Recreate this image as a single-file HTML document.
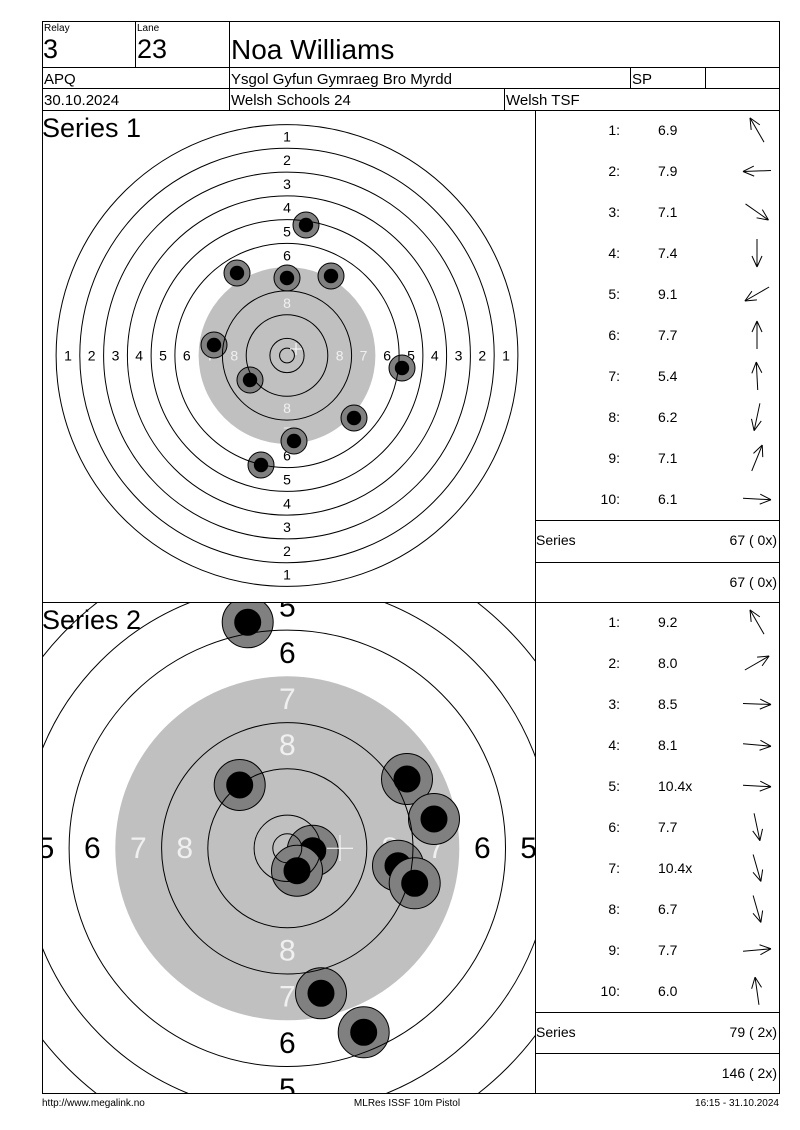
<!DOCTYPE html>
<html><head><meta charset="utf-8"><style>
html,body{margin:0;padding:0;background:#fff;width:800px;height:1130px;overflow:hidden;position:relative;}
svg{display:block;}
text{font-family:"Liberation Sans",Arial,sans-serif;}
.t{position:absolute;overflow:hidden;}
</style></head><body>
<svg width="800" height="1130" viewBox="0 0 800 1130" xmlns="http://www.w3.org/2000/svg" style="position:absolute;left:0;top:0">
<defs>
<g id="ar" fill="none" stroke="#000" stroke-width="1"><line x1="-14" y1="0" x2="14" y2="0"/><line x1="14" y1="0" x2="3" y2="-5"/><line x1="14" y1="0" x2="3" y2="5"/></g>
</defs>
<rect width="800" height="1130" fill="#fff"/>
<g stroke="#000" stroke-width="1" fill="none" shape-rendering="crispEdges">
<rect x="42.5" y="21.5" width="737" height="1072"/>
<line x1="42" y1="67.5" x2="780" y2="67.5"/>
<line x1="42" y1="88.5" x2="780" y2="88.5"/>
<line x1="42" y1="110.5" x2="780" y2="110.5"/>
<line x1="42" y1="602.5" x2="780" y2="602.5"/>
<line x1="135.5" y1="21" x2="135.5" y2="67"/>
<line x1="229.5" y1="21" x2="229.5" y2="110"/>
<line x1="630.5" y1="67" x2="630.5" y2="88"/>
<line x1="705.5" y1="67" x2="705.5" y2="88"/>
<line x1="504.5" y1="88" x2="504.5" y2="110"/>
<line x1="535.5" y1="110" x2="535.5" y2="1094"/>
<line x1="535" y1="520.5" x2="780" y2="520.5"/>
<line x1="535" y1="562.5" x2="780" y2="562.5"/>
<line x1="535" y1="1012.5" x2="780" y2="1012.5"/>
<line x1="535" y1="1053.5" x2="780" y2="1053.5"/>
</g>
<g fill="#000">
<text x="44" y="31" font-size="10">Relay</text>
<text x="137" y="31" font-size="10">Lane</text>
<text x="43" y="58" font-size="27">3</text>
<text x="137" y="58" font-size="27">23</text>
<text x="231" y="59" font-size="28">Noa Williams</text>
<text x="44" y="84" font-size="15">APQ</text>
<text x="231" y="84" font-size="15">Ysgol Gyfun Gymraeg Bro Myrdd</text>
<text x="632" y="84" font-size="15">SP</text>
<text x="44" y="105" font-size="15">30.10.2024</text>
<text x="231" y="105" font-size="15">Welsh Schools 24</text>
<text x="506" y="105" font-size="15">Welsh TSF</text>
</g>
<g font-size="14" fill="#000">
<g text-anchor="end">
<text x="620" y="135">1:</text><text x="620" y="176">2:</text><text x="620" y="217">3:</text><text x="620" y="258">4:</text><text x="620" y="299">5:</text><text x="620" y="340">6:</text><text x="620" y="381">7:</text><text x="620" y="422">8:</text><text x="620" y="463">9:</text><text x="620" y="504">10:</text>
<text x="620" y="627">1:</text><text x="620" y="668">2:</text><text x="620" y="709">3:</text><text x="620" y="750">4:</text><text x="620" y="791">5:</text><text x="620" y="832">6:</text><text x="620" y="873">7:</text><text x="620" y="914">8:</text><text x="620" y="955">9:</text><text x="620" y="996">10:</text>
<text x="777" y="545">67 ( 0x)</text><text x="777" y="587">67 ( 0x)</text>
<text x="777" y="1037">79 ( 2x)</text><text x="777" y="1078">146 ( 2x)</text>
</g>
<text x="658" y="135">6.9</text><text x="658" y="176">7.9</text><text x="658" y="217">7.1</text><text x="658" y="258">7.4</text><text x="658" y="299">9.1</text><text x="658" y="340">7.7</text><text x="658" y="381">5.4</text><text x="658" y="422">6.2</text><text x="658" y="463">7.1</text><text x="658" y="504">6.1</text>
<text x="658" y="627">9.2</text><text x="658" y="668">8.0</text><text x="658" y="709">8.5</text><text x="658" y="750">8.1</text><text x="658" y="791">10.4x</text><text x="658" y="832">7.7</text><text x="658" y="873">10.4x</text><text x="658" y="914">6.7</text><text x="658" y="955">7.7</text><text x="658" y="996">6.0</text>
<text x="536" y="545">Series</text>
<text x="536" y="1037">Series</text>
</g>
<use href="#ar" transform="translate(757,130) rotate(-120)"/>
<use href="#ar" transform="translate(757,171) rotate(178)"/>
<use href="#ar" transform="translate(757,212) rotate(35)"/>
<use href="#ar" transform="translate(757,253) rotate(90)"/>
<use href="#ar" transform="translate(757,294) rotate(150)"/>
<use href="#ar" transform="translate(757,335) rotate(-90)"/>
<use href="#ar" transform="translate(757,376) rotate(-93)"/>
<use href="#ar" transform="translate(757,417) rotate(102)"/>
<use href="#ar" transform="translate(757,458) rotate(-68)"/>
<use href="#ar" transform="translate(757,499) rotate(3)"/>
<use href="#ar" transform="translate(757,622) rotate(-120)"/>
<use href="#ar" transform="translate(757,663) rotate(-30)"/>
<use href="#ar" transform="translate(757,704) rotate(2)"/>
<use href="#ar" transform="translate(757,745) rotate(5)"/>
<use href="#ar" transform="translate(757,786) rotate(3)"/>
<use href="#ar" transform="translate(757,827) rotate(78)"/>
<use href="#ar" transform="translate(757,868) rotate(74)"/>
<use href="#ar" transform="translate(757,909) rotate(74)"/>
<use href="#ar" transform="translate(757,950) rotate(-5)"/>
<use href="#ar" transform="translate(757,991) rotate(-98)"/>
<g font-size="10" fill="#000">
<text x="42" y="1106">http://www.megalink.no</text>
<text x="407" y="1106" text-anchor="middle">MLRes ISSF 10m Pistol</text>
<text x="779" y="1106" text-anchor="end">16:15 - 31.10.2024</text>
</g>
</svg>

<div class="t" style="left:43px;top:111px;width:492px;height:491px;">
<svg width="492" height="491" viewBox="43 111 492 491" xmlns="http://www.w3.org/2000/svg" overflow="hidden">
<circle cx="287" cy="355.5" r="88.4" fill="#c0c0c0"/>
<g font-size="14" text-anchor="middle" dominant-baseline="central" fill="#000">
<text x="287" y="136.5">1</text><text x="287" y="160.2">2</text><text x="287" y="184">3</text><text x="287" y="207.7">4</text><text x="287" y="231.5">5</text><text x="287" y="255.3">6</text>
<text x="287" y="574.5">1</text><text x="287" y="550.8">2</text><text x="287" y="527">3</text><text x="287" y="503.3">4</text><text x="287" y="479.5">5</text><text x="287" y="455.7">6</text>
<text x="68" y="355.5">1</text><text x="91.7" y="355.5">2</text><text x="115.5" y="355.5">3</text><text x="139.2" y="355.5">4</text><text x="163" y="355.5">5</text><text x="186.8" y="355.5">6</text>
<text x="506" y="355.5">1</text><text x="482.3" y="355.5">2</text><text x="458.5" y="355.5">3</text><text x="434.8" y="355.5">4</text><text x="411" y="355.5">5</text><text x="387.2" y="355.5">6</text>
</g>
<g font-size="14" text-anchor="middle" dominant-baseline="central" fill="#f0f0f0">
<text x="287" y="279">7</text><text x="287" y="302.8">8</text><text x="287" y="432">7</text><text x="287" y="408.2">8</text>
<text x="210.5" y="355.5">7</text><text x="234.3" y="355.5">8</text><text x="363.5" y="355.5">7</text><text x="339.7" y="355.5">8</text>
</g>
<g stroke="#000" stroke-width="1">
<circle cx="306" cy="225" r="13" fill="#808080"/><circle cx="306" cy="225" r="6.7" fill="#000"/>
<circle cx="237" cy="273" r="13" fill="#808080"/><circle cx="237" cy="273" r="6.7" fill="#000"/>
<circle cx="287" cy="278" r="13" fill="#808080"/><circle cx="287" cy="278" r="6.7" fill="#000"/>
<circle cx="331" cy="276" r="13" fill="#808080"/><circle cx="331" cy="276" r="6.7" fill="#000"/>
<circle cx="214" cy="345" r="13" fill="#808080"/><circle cx="214" cy="345" r="6.7" fill="#000"/>
<circle cx="250" cy="380" r="13" fill="#808080"/><circle cx="250" cy="380" r="6.7" fill="#000"/>
<circle cx="402" cy="368" r="13" fill="#808080"/><circle cx="402" cy="368" r="6.7" fill="#000"/>
<circle cx="354" cy="418" r="13" fill="#808080"/><circle cx="354" cy="418" r="6.7" fill="#000"/>
<circle cx="294" cy="441" r="13" fill="#808080"/><circle cx="294" cy="441" r="6.7" fill="#000"/>
<circle cx="261" cy="465" r="13" fill="#808080"/><circle cx="261" cy="465" r="6.7" fill="#000"/>
</g>
<g fill="none" stroke="#000" stroke-width="1">
<circle cx="287" cy="355.5" r="230.9"/><circle cx="287" cy="355.5" r="207.2"/><circle cx="287" cy="355.5" r="183.4"/><circle cx="287" cy="355.5" r="159.6"/><circle cx="287" cy="355.5" r="135.9"/><circle cx="287" cy="355.5" r="112.1"/><circle cx="287" cy="355.5" r="64.6"/><circle cx="287" cy="355.5" r="40.8"/><circle cx="287" cy="355.5" r="17.1"/><circle cx="287" cy="355.5" r="7.4"/>
</g>
<g stroke="#fff" stroke-width="1"><line x1="290" y1="349" x2="302" y2="349"/><line x1="296" y1="343" x2="296" y2="355"/></g>
<text x="42" y="137" font-size="27" fill="#000">Series 1</text>
</svg>
</div>

<div class="t" style="left:43px;top:603px;width:492px;height:490px;">
<svg width="492" height="490" viewBox="43 603 492 490" xmlns="http://www.w3.org/2000/svg" overflow="hidden">
<circle cx="287.3" cy="848.3" r="172" fill="#c0c0c0"/>
<g font-size="30" text-anchor="middle" dominant-baseline="central" fill="#000">
<text x="287.3" y="607">5</text><text x="287.3" y="653.3">6</text><text x="287.3" y="1043.3">6</text><text x="287.3" y="1089.6">5</text>
<text x="46" y="848.3">5</text><text x="92.3" y="848.3">6</text><text x="482.3" y="848.3">6</text><text x="528.6" y="848.3">5</text>
</g>
<g font-size="30" text-anchor="middle" dominant-baseline="central" fill="#f0f0f0">
<text x="287.3" y="699.4">7</text><text x="287.3" y="745.7">8</text><text x="287.3" y="997.2">7</text><text x="287.3" y="950.9">8</text>
<text x="138.4" y="848.3">7</text><text x="184.7" y="848.3">8</text><text x="436.2" y="848.3">7</text><text x="389.9" y="848.3">8</text>
</g>
<g stroke="#000" stroke-width="1">
<circle cx="247.7" cy="622.3" r="25.5" fill="#808080"/><circle cx="247.7" cy="622.3" r="13" fill="#000"/>
<circle cx="239.7" cy="785" r="25.5" fill="#808080"/><circle cx="239.7" cy="785" r="13" fill="#000"/>
<circle cx="407" cy="779" r="25.5" fill="#808080"/><circle cx="407" cy="779" r="13" fill="#000"/>
<circle cx="434" cy="819" r="25.5" fill="#808080"/><circle cx="434" cy="819" r="13" fill="#000"/>
<circle cx="312.7" cy="850.7" r="25.5" fill="#808080"/><circle cx="312.7" cy="850.7" r="13" fill="#000"/>
<circle cx="297" cy="870.7" r="25.5" fill="#808080"/><circle cx="297" cy="870.7" r="13" fill="#000"/>
<circle cx="398" cy="865.7" r="25.5" fill="#808080"/><circle cx="398" cy="865.7" r="13" fill="#000"/>
<circle cx="414.7" cy="883.3" r="25.5" fill="#808080"/><circle cx="414.7" cy="883.3" r="13" fill="#000"/>
<circle cx="321" cy="993.3" r="25.5" fill="#808080"/><circle cx="321" cy="993.3" r="13" fill="#000"/>
<circle cx="363.7" cy="1032.3" r="25.5" fill="#808080"/><circle cx="363.7" cy="1032.3" r="13" fill="#000"/>
</g>
<g fill="none" stroke="#000" stroke-width="1">
<circle cx="287.3" cy="848.3" r="449.4"/><circle cx="287.3" cy="848.3" r="403.2"/><circle cx="287.3" cy="848.3" r="356.9"/><circle cx="287.3" cy="848.3" r="310.7"/><circle cx="287.3" cy="848.3" r="264.4"/><circle cx="287.3" cy="848.3" r="218.2"/><circle cx="287.3" cy="848.3" r="125.7"/><circle cx="287.3" cy="848.3" r="79.5"/><circle cx="287.3" cy="848.3" r="33.2"/><circle cx="287.3" cy="848.3" r="14.5"/>
</g>
<g stroke="#fff" stroke-width="1"><line x1="327" y1="848.3" x2="353" y2="848.3"/><line x1="340" y1="835" x2="340" y2="861"/></g>
<text x="42" y="629" font-size="27" fill="#000">Series 2</text>
</svg>
</div>
</body></html>
